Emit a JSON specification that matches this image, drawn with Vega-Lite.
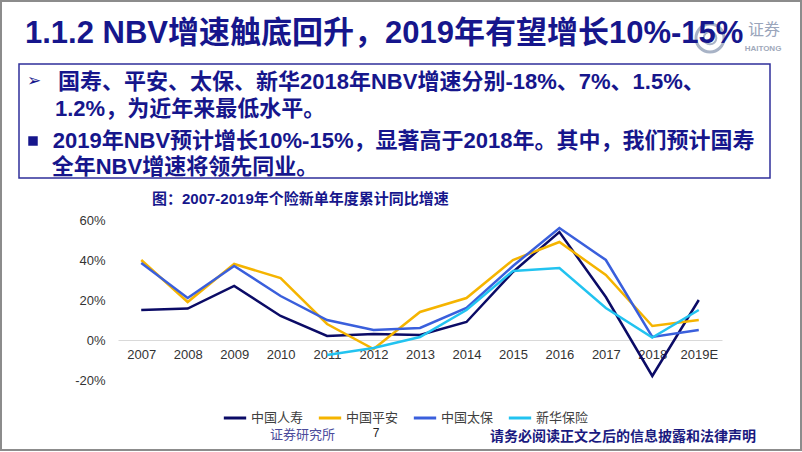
{
  "$schema": "https://vega.github.io/schema/vega-lite/v6.json",
  "width": 604,
  "height": 160,
  "autosize": {"type": "none"},
  "padding": {"left": 118, "top": 220, "right": 80, "bottom": 72},
  "background": "white",
  "config": {"view": {"stroke": null}, "font": "Liberation Sans, Noto Sans CJK SC"},
  "layer": [
    {"data": {"values": [{}]}, "mark": {"type": "rect", "x": -117, "x2": 683, "y": -219, "y2": 230, "fillOpacity": 0, "stroke": "#8c8c8c", "strokeWidth": 2}},
    {"data": {"values": [{}]}, "mark": {"type": "point", "shape": "circle", "x": 592, "y": -182, "size": 784, "filled": false, "stroke": "#a8b3c6", "strokeWidth": 3, "opacity": 1}},
    {"data": {"values": [{}]}, "mark": {"type": "point", "shape": "circle", "x": 592, "y": -182, "size": 160, "filled": false, "stroke": "#a8b3c6", "strokeWidth": 2, "opacity": 1}},
    {"data": {"values": [{}]}, "mark": {"type": "text", "text": "证券", "x": 630, "y": -190, "align": "left", "baseline": "middle", "font": "Noto Sans CJK SC", "fontSize": 16, "color": "#9aa5bb"}},
    {"data": {"values": [{}]}, "mark": {"type": "text", "text": "HAITONG", "x": 645, "y": -171, "align": "center", "baseline": "middle", "fontSize": 8, "fontWeight": "bold", "color": "#a0a9bb"}},
    {"data": {"values": [{}]}, "mark": {"type": "text", "text": "1.1.2 NBV增速触底回升，2019年有望增长10%-15%", "x": -93, "y": -186, "align": "left", "baseline": "middle", "fontSize": 31, "fontWeight": "bold", "color": "#16168c"}},
    {"data": {"values": [{}]}, "mark": {"type": "rule", "x": -90, "x2": 655, "y": -158.5, "y2": -158.5, "color": "#a0a0a0", "strokeWidth": 1}, "encoding": {}},
    {"data": {"values": [{}]}, "mark": {"type": "rect", "x": -99, "x2": 652, "y": -156, "y2": -42, "fillOpacity": 0, "stroke": "#2f2f9a", "strokeWidth": 1.5}},
    {"data": {"values": [{}]}, "mark": {"type": "text", "text": "➢", "x": -91, "y": -139, "align": "left", "baseline": "middle", "font": "DejaVu Sans", "fontSize": 17, "color": "#16168c"}},
    {"data": {"values": [{}]}, "mark": {"type": "text", "text": "国寿、平安、太保、新华2018年NBV增速分别-18%、7%、1.5%、", "x": -60, "y": -138.3, "align": "left", "baseline": "middle", "fontSize": 22, "fontWeight": "bold", "color": "#16168c"}},
    {"data": {"values": [{}]}, "mark": {"type": "text", "text": "1.2%，为近年来最低水平。", "x": -63, "y": -110.7, "align": "left", "baseline": "middle", "fontSize": 22, "fontWeight": "bold", "color": "#16168c"}},
    {"data": {"values": [{}]}, "mark": {"type": "point", "shape": "square", "x": -85, "y": -79, "size": 90, "filled": true, "color": "#16168c", "opacity": 1}},
    {"data": {"values": [{}]}, "mark": {"type": "text", "text": "2019年NBV预计增长10%-15%，显著高于2018年。其中，我们预计国寿", "x": -65.3, "y": -79, "align": "left", "baseline": "middle", "fontSize": 22, "fontWeight": "bold", "color": "#16168c"}},
    {"data": {"values": [{}]}, "mark": {"type": "text", "text": "全年NBV增速将领先同业。", "x": -66.3, "y": -53.3, "align": "left", "baseline": "middle", "fontSize": 22, "fontWeight": "bold", "color": "#16168c"}},
    {"data": {"values": [{}]}, "mark": {"type": "text", "text": "图：2007-2019年个险新单年度累计同比增速", "x": 34, "y": -21, "align": "left", "baseline": "middle", "fontSize": 15, "fontWeight": "bold", "color": "#16168c"}},
    {"data": {"values": [{}]}, "mark": {"type": "text", "text": "证券研究所", "x": 152, "y": 215, "align": "left", "baseline": "middle", "font": "Noto Sans CJK SC", "fontSize": 13, "color": "#4b4b9b"}},
    {"data": {"values": [{}]}, "mark": {"type": "text", "text": "7", "x": 258, "y": 213, "align": "center", "baseline": "middle", "fontSize": 12, "color": "#222222"}},
    {"data": {"values": [{}]}, "mark": {"type": "text", "text": "请务必阅读正文之后的信息披露和法律声明", "x": 372, "y": 217, "align": "left", "baseline": "middle", "font": "Noto Sans CJK SC", "fontSize": 14, "fontWeight": "bold", "color": "#1a1a80"}},
    {
      "data": {"values": [
        {"year": "2007", "company": "中国人寿", "value": 15},
        {"year": "2008", "company": "中国人寿", "value": 15.7},
        {"year": "2009", "company": "中国人寿", "value": 27},
        {"year": "2010", "company": "中国人寿", "value": 12},
        {"year": "2011", "company": "中国人寿", "value": 2},
        {"year": "2012", "company": "中国人寿", "value": 3},
        {"year": "2013", "company": "中国人寿", "value": 2.5},
        {"year": "2014", "company": "中国人寿", "value": 9},
        {"year": "2015", "company": "中国人寿", "value": 34},
        {"year": "2016", "company": "中国人寿", "value": 54},
        {"year": "2017", "company": "中国人寿", "value": 21.5},
        {"year": "2018", "company": "中国人寿", "value": -18},
        {"year": "2019E", "company": "中国人寿", "value": 20},
        {"year": "2007", "company": "中国平安", "value": 40},
        {"year": "2008", "company": "中国平安", "value": 19},
        {"year": "2009", "company": "中国平安", "value": 38},
        {"year": "2010", "company": "中国平安", "value": 31},
        {"year": "2011", "company": "中国平安", "value": 8},
        {"year": "2012", "company": "中国平安", "value": -4.5},
        {"year": "2013", "company": "中国平安", "value": 14},
        {"year": "2014", "company": "中国平安", "value": 21},
        {"year": "2015", "company": "中国平安", "value": 40},
        {"year": "2016", "company": "中国平安", "value": 49},
        {"year": "2017", "company": "中国平安", "value": 32.5},
        {"year": "2018", "company": "中国平安", "value": 7},
        {"year": "2019E", "company": "中国平安", "value": 10},
        {"year": "2007", "company": "中国太保", "value": 38.5},
        {"year": "2008", "company": "中国太保", "value": 21},
        {"year": "2009", "company": "中国太保", "value": 37},
        {"year": "2010", "company": "中国太保", "value": 22},
        {"year": "2011", "company": "中国太保", "value": 10},
        {"year": "2012", "company": "中国太保", "value": 5},
        {"year": "2013", "company": "中国太保", "value": 6},
        {"year": "2014", "company": "中国太保", "value": 16},
        {"year": "2015", "company": "中国太保", "value": 37},
        {"year": "2016", "company": "中国太保", "value": 56},
        {"year": "2017", "company": "中国太保", "value": 40},
        {"year": "2018", "company": "中国太保", "value": 1.5},
        {"year": "2019E", "company": "中国太保", "value": 5},
        {"year": "2011", "company": "新华保险", "value": -7.5},
        {"year": "2012", "company": "新华保险", "value": -4},
        {"year": "2013", "company": "新华保险", "value": 1.5},
        {"year": "2014", "company": "新华保险", "value": 15},
        {"year": "2015", "company": "新华保险", "value": 34.5},
        {"year": "2016", "company": "新华保险", "value": 36},
        {"year": "2017", "company": "新华保险", "value": 16},
        {"year": "2018", "company": "新华保险", "value": 1.2},
        {"year": "2019E", "company": "新华保险", "value": 15}
      ]},
      "mark": {"type": "line", "strokeWidth": 2.5},
      "encoding": {
        "x": {
          "field": "year", "type": "ordinal",
          "scale": {"type": "point", "padding": 0.5},
          "axis": {"orient": "bottom", "offset": -40, "title": null, "labelAngle": 0, "ticks": false, "domain": true, "domainColor": "#d9d9d9", "domainWidth": 1, "grid": false, "labelPadding": 8, "labelFontSize": 13, "labelFont": "Liberation Sans", "labelColor": "#333333"}
        },
        "y": {
          "field": "value", "type": "quantitative",
          "scale": {"domain": [-20, 60], "nice": false, "zero": false},
          "axis": {"title": null, "values": [-20, 0, 20, 40, 60], "labelExpr": "datum.value + '%'", "ticks": false, "domain": false, "grid": false, "labelPadding": 13, "labelFontSize": 13, "labelFont": "Liberation Sans", "labelColor": "#333333"}
        },
        "color": {
          "field": "company", "type": "nominal",
          "scale": {"domain": ["中国人寿", "中国平安", "中国太保", "新华保险"], "range": ["#0b0b66", "#f5b400", "#3a5fdc", "#22c3f0"]},
          "legend": {"orient": "none", "legendX": 104, "legendY": 185, "direction": "horizontal", "title": null, "symbolType": "stroke", "symbolSize": 500, "symbolStrokeWidth": 3, "labelFontSize": 13, "labelFont": "Noto Sans CJK SC", "labelColor": "#404040", "columnPadding": 8, "labelOffset": 3}
        }
      }
    }
  ]
}
